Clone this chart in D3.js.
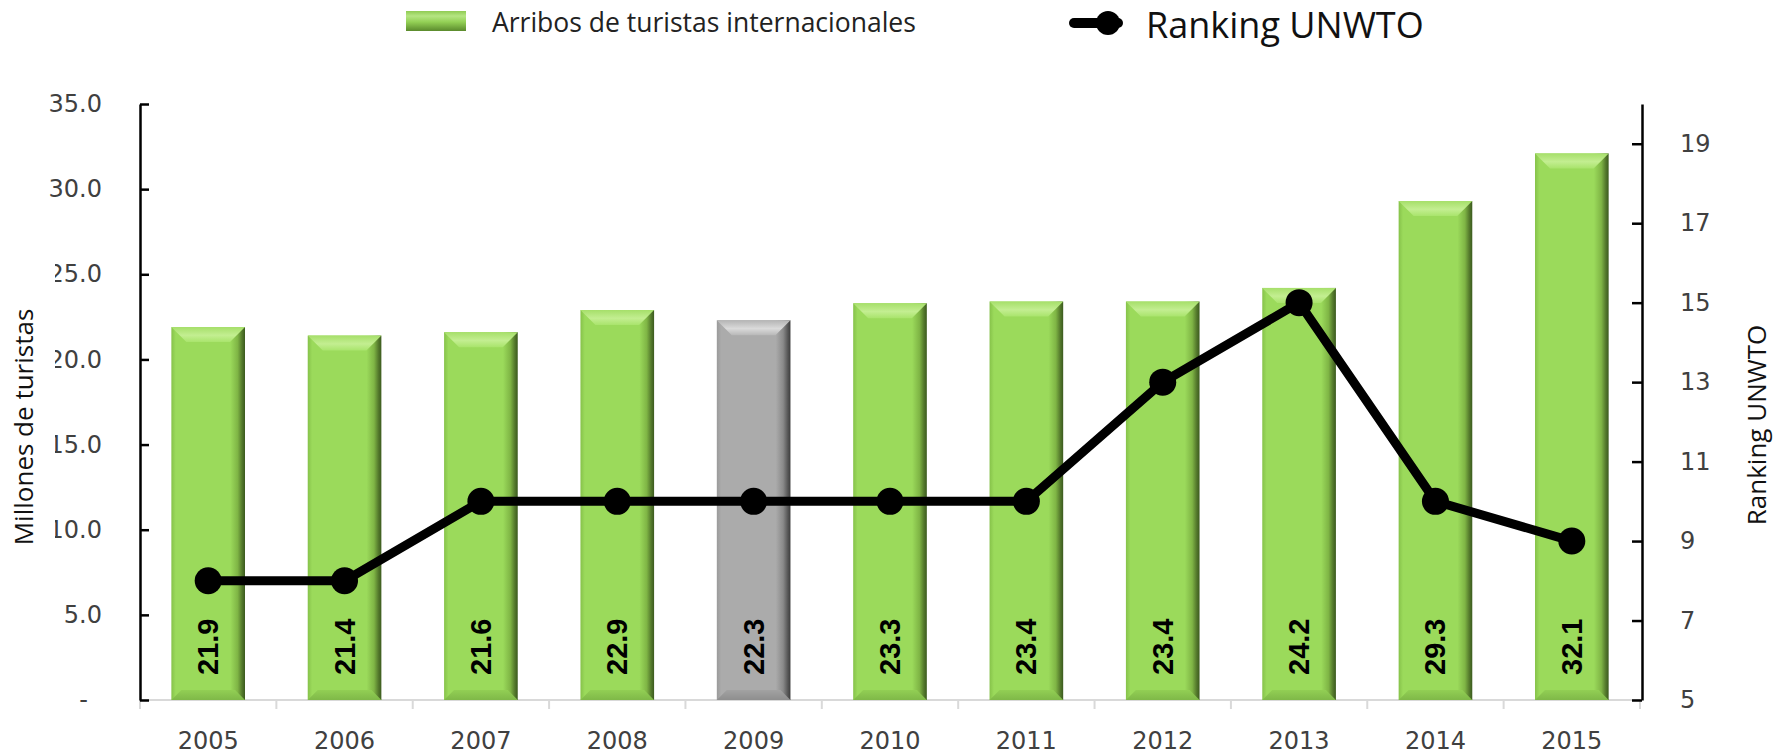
<!DOCTYPE html>
<html>
<head>
<meta charset="utf-8">
<script src="https://cdn.jsdelivr.net/npm/d3@7"></script>
<style>
  html, body { margin: 0; padding: 0; background: #fff; }
</style>
</head>
<body>
<div id="chart"></div>
<script>
const width = 1785;
const height = 755;

// datos
const years = ["2005", "2006", "2007", "2008", "2009", "2010", "2011", "2012", "2013", "2014", "2015"];
const arribos = [21.9, 21.4, 21.6, 22.9, 22.3, 23.3, 23.4, 23.4, 24.2, 29.3, 32.1];
const ranking = [8, 8, 10, 10, 10, 10, 10, 13, 15, 10, 9];
const leftTicks = [0, 5, 10, 15, 20, 25, 30, 35];
const rightTicks = [5, 7, 9, 11, 13, 15, 17, 19];
const grayYear = "2009";
const barLabel = "Arribos de turistas internacionales";
const lineLabel = "Ranking UNWTO";
const leftTitle = "Millones de turistas";
const rightTitle = "Ranking UNWTO";

const plot = { left: 140, right: 1640, top: 104, bottom: 700 };
const tickFont = "'DejaVu Sans', sans-serif";
const titleFont = "'Open Sans', 'Noto Sans', sans-serif";

let svg = d3.select("#chart")
  .append("svg")
  .attr("width", width)
  .attr("height", height)
  .attr("viewBox", [0, 0, width, height]);

// escalas
var x = d3.scaleBand()
  .domain(years)
  .range([plot.left, plot.right])
  .paddingInner(0.46)
  .paddingOuter(0.23);
var yL = d3.scaleLinear().domain([0, 35]).range([plot.bottom, plot.top]);
var yR = d3.scaleLinear().domain([5, 20]).range([plot.bottom, plot.top]);

// gradientes para el efecto biselado
let defs = svg.append("defs");
function hGrad(id, stops) {
  let g = defs.append("linearGradient").attr("id", id)
    .attr("x1", "0").attr("x2", "1").attr("y1", "0").attr("y2", "0");
  stops.forEach(s => g.append("stop").attr("offset", s[0]).attr("stop-color", s[1]));
}
function vGrad(id, stops) {
  let g = defs.append("linearGradient").attr("id", id)
    .attr("x1", "0").attr("x2", "0").attr("y1", "0").attr("y2", "1");
  stops.forEach(s => g.append("stop").attr("offset", s[0]).attr("stop-color", s[1]));
}
hGrad("greenBody", [["0%", "#86c24a"], ["6%", "#9bda5b"], ["80%", "#9bda5b"], ["90%", "#7fb545"], ["96%", "#54792c"], ["100%", "#3b5a1e"]]);
vGrad("greenTop", [["0%", "#a6df6a"], ["55%", "#c3ee91"], ["100%", "#a9e46c"]]);
vGrad("greenBottom", [["0%", "#92cf54"], ["100%", "#7fb848"]]);
hGrad("grayBody", [["0%", "#9a9a9a"], ["6%", "#ababab"], ["80%", "#ababab"], ["90%", "#8a8a8a"], ["96%", "#5a5a5a"], ["100%", "#3c3c3c"]]);
vGrad("grayTop", [["0%", "#b4b4b4"], ["55%", "#dadada"], ["100%", "#b8b8b8"]]);
vGrad("grayBottom", [["0%", "#a2a2a2"], ["100%", "#8e8e8e"]]);
vGrad("legendSwatch", [["0%", "#8fcb52"], ["25%", "#b5e582"], ["55%", "#93d055"], ["100%", "#5a8a2c"]]);

// eje X (línea gris y marcas entre categorías)
let xAxis = svg.append("g");
xAxis.append("line")
  .attr("x1", plot.left).attr("x2", plot.right)
  .attr("y1", plot.bottom).attr("y2", plot.bottom)
  .attr("stroke", "#d9d9d9").attr("stroke-width", 2);
let gap = (x.step() - x.bandwidth()) / 2;
xAxis.selectAll(".xtick")
  .data(years.concat(["end"]))
  .enter()
  .append("line")
  .attr("x1", (d) => d === "end" ? plot.right : x(d) - gap)
  .attr("x2", (d) => d === "end" ? plot.right : x(d) - gap)
  .attr("y1", plot.bottom)
  .attr("y2", plot.bottom + 9)
  .attr("stroke", "#d9d9d9").attr("stroke-width", 2);
xAxis.selectAll(".xlabel")
  .data(years)
  .enter()
  .append("text")
  .attr("x", (d) => x(d) + x.bandwidth() / 2)
  .attr("y", 749)
  .attr("text-anchor", "middle")
  .attr("font-family", tickFont)
  .attr("font-size", 24)
  .attr("fill", "#404040")
  .text((d) => d);

// barras
const bev = 15;
let bars = svg.selectAll(".bar")
  .data(years)
  .enter()
  .append("g")
  .attr("class", "bar");
bars.each(function (d, i) {
  let g = d3.select(this);
  let kind = d === grayYear ? "gray" : "green";
  let x0 = x(d), x1 = x(d) + x.bandwidth();
  let y0 = yL(arribos[i]), y1 = yL(0);
  g.append("rect")
    .attr("x", x0).attr("y", y0)
    .attr("width", x1 - x0).attr("height", y1 - y0)
    .attr("fill", "url(#" + kind + "Body)");
  g.append("path")
    .attr("d", `M${x0},${y0}L${x1},${y0}L${x1 - bev},${y0 + bev}L${x0 + bev},${y0 + bev}Z`)
    .attr("fill", "url(#" + kind + "Top)");
  g.append("path")
    .attr("d", `M${x0},${y1}L${x1},${y1}L${x1 - 10},${y1 - 10}L${x0 + 10},${y1 - 10}Z`)
    .attr("fill", "url(#" + kind + "Bottom)");
  // etiqueta de valor vertical
  g.append("text")
    .attr("transform", `translate(${x0 + x.bandwidth() / 2},${y1 - 25}) rotate(-90)`)
    .attr("dominant-baseline", "central")
    .attr("font-family", "'Liberation Sans', Arial, sans-serif")
    .attr("font-weight", "bold")
    .attr("font-size", 29)
    .attr("fill", "#000")
    .text(d3.format(".1f")(arribos[i]));
});

// línea del ranking
var line = d3.line()
  .x((d, i) => x(years[i]) + x.bandwidth() / 2)
  .y((d) => yR(d));
svg.append("path")
  .datum(ranking)
  .attr("fill", "none")
  .attr("stroke", "#000")
  .attr("stroke-width", 9)
  .attr("stroke-linejoin", "round")
  .attr("d", line);
svg.selectAll(".dot")
  .data(ranking)
  .enter()
  .append("circle")
  .attr("cx", (d, i) => x(years[i]) + x.bandwidth() / 2)
  .attr("cy", (d) => yR(d))
  .attr("r", 13.5)
  .attr("fill", "#000");

// eje Y izquierdo
let leftAxis = svg.append("g")
  .attr("transform", "translate(" + plot.left + ",0)")
  .call(d3.axisLeft(yL)
    .tickValues(leftTicks)
    .tickSize(-9)
    .tickSizeOuter(0)
    .tickPadding(38)
    .tickFormat((d) => d === 0 ? "-" : d3.format(".1f")(d)));
leftAxis.select(".domain").attr("stroke", "#000").attr("stroke-width", 2.5);
leftAxis.selectAll(".tick line").attr("stroke", "#000").attr("stroke-width", 2.5);
leftAxis.selectAll(".tick text")
  .attr("font-family", tickFont)
  .attr("font-size", 24)
  .attr("fill", "#404040")
  .attr("dx", (d) => d === 0 ? -14 : 0);

// eje Y derecho
let rightAxis = svg.append("g")
  .attr("transform", "translate(" + (plot.right + 2) + ",0)")
  .call(d3.axisRight(yR)
    .tickValues(rightTicks)
    .tickSize(-10)
    .tickSizeOuter(0)
    .tickPadding(38));
rightAxis.select(".domain").attr("stroke", "#000").attr("stroke-width", 2.5);
rightAxis.selectAll(".tick line").attr("stroke", "#000").attr("stroke-width", 2.5);
rightAxis.selectAll(".tick text")
  .attr("font-family", tickFont)
  .attr("font-size", 24)
  .attr("fill", "#404040");

// el título tapa parte de las etiquetas, como en el original
svg.append("rect")
  .attr("x", 0).attr("y", 258)
  .attr("width", 55).attr("height", 294)
  .attr("fill", "#fff");

// títulos de los ejes
svg.append("text")
  .attr("transform", "translate(33,427) rotate(-90)")
  .attr("text-anchor", "middle")
  .attr("font-family", titleFont)
  .attr("font-size", 26)
  .attr("fill", "#111")
  .text(leftTitle);
svg.append("text")
  .attr("transform", "translate(1766,425) rotate(-90)")
  .attr("text-anchor", "middle")
  .attr("font-family", titleFont)
  .attr("font-size", 26)
  .attr("fill", "#111")
  .text(rightTitle);

// leyenda
let legend = svg.append("g");
legend.append("rect")
  .attr("x", 406).attr("y", 11)
  .attr("width", 60).attr("height", 20)
  .attr("fill", "url(#legendSwatch)");
legend.append("text")
  .attr("x", 492).attr("y", 32)
  .attr("font-family", titleFont)
  .attr("font-size", 26.5)
  .attr("fill", "#222")
  .text(barLabel);
legend.append("line")
  .attr("x1", 1074).attr("x2", 1118)
  .attr("y1", 23).attr("y2", 23)
  .attr("stroke", "#000")
  .attr("stroke-width", 10)
  .attr("stroke-linecap", "round");
legend.append("circle")
  .attr("cx", 1108).attr("cy", 23)
  .attr("r", 12)
  .attr("fill", "#000");
legend.append("text")
  .attr("x", 1146).attr("y", 38)
  .attr("font-family", titleFont)
  .attr("font-size", 36)
  .attr("fill", "#111")
  .text(lineLabel);
</script>
</body>
</html>
